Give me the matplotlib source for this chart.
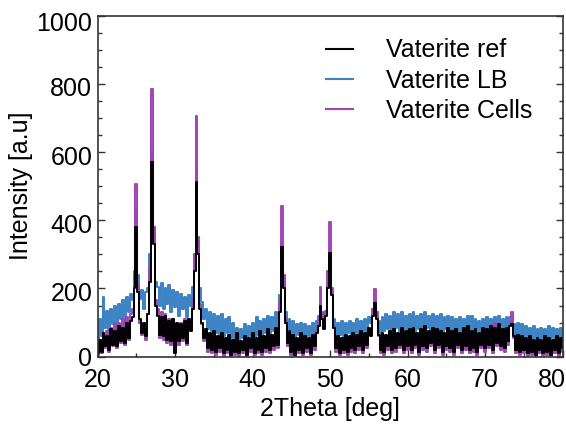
import numpy as np
import matplotlib
matplotlib.use("Agg")
import matplotlib.pyplot as plt
from matplotlib.ticker import MultipleLocator
import matplotlib.transforms as mtransforms

# 2Theta sampling grid (deg), 0.25 deg step from 20 to 80
two_theta = np.arange(20.0, 80.0001, 0.25)

vaterite_ref = [
    10, 50, 15, 70, 30, 60, 20, 80, 35, 75, 30, 90, 45, 85, 40, 100, 55, 105, 115, 200,
    380, 190, 110, 70, 100, 60, 125, 220, 570, 330, 150, 120, 65, 115, 60, 120, 50, 105, 45, 110,
    10, 100, 45, 95, 55, 105, 40, 110, 75, 140, 250, 512, 300, 140, 100, 55, 80, 25, 70, 20,
    75, 15, 60, 25, 70, 10, 55, 20, 65, 5, 50, 15, 70, 10, 45, 20, 60, 5, 55, 25,
    70, 10, 55, 20, 75, 15, 60, 25, 80, 20, 65, 30, 85, 35, 130, 322, 200, 100, 40, 75,
    15, 65, 5, 55, 20, 70, 10, 60, 25, 55, 10, 65, 30, 70, 90, 150, 110, 80, 120, 200,
    303, 180, 85, 25, 60, 10, 55, 20, 65, 15, 60, 25, 70, 20, 65, 30, 75, 20, 70, 35,
    85, 60, 120, 157, 110, 65, 20, 70, 15, 65, 30, 75, 20, 80, 25, 70, 35, 85, 20, 75,
    30, 80, 20, 85, 35, 70, 15, 80, 30, 90, 25, 75, 40, 85, 20, 80, 35, 75, 15, 70,
    30, 85, 25, 75, 15, 80, 35, 70, 20, 85, 30, 90, 20, 75, 25, 80, 15, 70, 35, 85,
    25, 80, 35, 90, 20, 85, 40, 95, 30, 80, 25, 85, 45, 90, 95, 60, 20, 65, 15, 60,
    20, 55, 10, 60, 15, 50, 5, 55, 20, 50, 10, 60, 15, 55, 5, 50, 20, 60, 10, 55,
    25,
]

vaterite_lb = [
    30, 110, 60, 175, 85, 135, 70, 140, 95, 150, 80, 155, 110, 165, 100, 175, 130, 185, 165, 250,
    430, 240, 170, 195, 140, 190, 200, 300, 600, 380, 220, 205, 150, 215, 140, 200, 155, 210, 130, 195,
    145, 190, 120, 185, 140, 175, 115, 180, 150, 205, 300, 561, 340, 200, 160, 110, 140, 80, 130, 75,
    125, 70, 120, 65, 125, 60, 110, 70, 115, 55, 100, 50, 85, 45, 80, 55, 95, 50, 90, 60,
    100, 50, 115, 65, 105, 55, 110, 70, 120, 65, 115, 75, 130, 85, 180, 335, 220, 130, 80, 110,
    60, 105, 55, 95, 65, 100, 50, 95, 60, 90, 55, 100, 65, 105, 120, 150, 130, 110, 135, 210,
    290, 190, 110, 60, 100, 65, 105, 55, 100, 70, 105, 60, 100, 70, 110, 65, 105, 75, 110, 70,
    115, 100, 140, 160, 130, 105, 70, 115, 75, 125, 80, 120, 70, 130, 85, 125, 75, 130, 80, 120,
    75, 125, 85, 130, 70, 120, 80, 125, 75, 130, 85, 120, 70, 125, 80, 120, 75, 125, 70, 115,
    80, 120, 70, 115, 75, 110, 70, 115, 65, 110, 75, 120, 70, 120, 65, 110, 75, 105, 70, 110,
    75, 115, 70, 110, 80, 115, 70, 120, 75, 110, 80, 115, 70, 115, 120, 95, 65, 100, 60, 95,
    55, 90, 60, 85, 50, 90, 55, 80, 50, 85, 55, 80, 50, 90, 55, 85, 50, 80, 55, 85,
    55,
]

vaterite_cells = [
    5, 45, 10, 60, 25, 75, 15, 85, 30, 95, 25, 100, 40, 110, 35, 115, 50, 125, 140, 230,
    505, 210, 100, 65, 95, 50, 125, 260, 785, 380, 165, 140, 55, 130, 50, 125, 40, 110, 35, 105,
    40, 95, 35, 100, 45, 110, 35, 105, 80, 160, 300, 707, 350, 155, 95, 45, 75, 15, 65, 10,
    65, 5, 55, 15, 60, 3, 50, 10, 60, 3, 45, 5, 65, 3, 40, 10, 55, 3, 50, 15,
    65, 5, 50, 10, 70, 5, 55, 15, 75, 10, 60, 20, 80, 25, 160, 441, 240, 110, 30, 70,
    5, 60, 3, 50, 10, 65, 5, 55, 15, 50, 5, 60, 20, 75, 110, 205, 130, 85, 130, 250,
    395, 200, 90, 15, 55, 5, 50, 10, 60, 5, 55, 15, 65, 10, 60, 20, 70, 10, 65, 25,
    80, 70, 140, 198, 130, 60, 10, 65, 5, 60, 20, 70, 10, 75, 15, 65, 25, 80, 10, 70,
    20, 75, 10, 80, 25, 65, 5, 75, 20, 85, 15, 70, 30, 80, 10, 75, 25, 70, 5, 65,
    20, 80, 15, 70, 5, 75, 25, 65, 10, 80, 20, 85, 10, 70, 15, 75, 5, 65, 25, 80,
    15, 75, 25, 85, 10, 100, 30, 90, 20, 75, 15, 80, 35, 90, 130, 55, 10, 60, 5, 55,
    10, 50, 3, 55, 5, 45, 3, 50, 10, 45, 3, 55, 5, 50, 3, 45, 10, 55, 3, 50,
    15,
]

series_labels = ["Vaterite ref", "Vaterite LB", "Vaterite Cells"]
series_colors = ["#000000", "#3a82c4", "#a044b4"]

x_ticks = [20, 30, 40, 50, 60, 70, 80]
y_ticks = [0, 200, 400, 600, 800, 1000]

plt.rcParams['font.family'] = ['Liberation Sans', 'DejaVu Sans']

fig = plt.figure(figsize=(5.66, 4.28), dpi=100)
ax = fig.add_axes([0.1726, 0.1666, 0.8215, 0.7967])

lw = 1.4
l_lb, = ax.plot(two_theta, vaterite_lb, color=series_colors[1], lw=lw,
                drawstyle='steps-mid', label=series_labels[1])
l_cells, = ax.plot(two_theta, vaterite_cells, color=series_colors[2], lw=lw,
                   drawstyle='steps-mid', label=series_labels[2])
l_ref, = ax.plot(two_theta, vaterite_ref, color=series_colors[0], lw=lw,
                 drawstyle='steps-mid', label=series_labels[0])

ax.set_xlim(20, 80)
ax.set_ylim(0, 1000)
ax.set_xticks(x_ticks)
ax.set_yticks(y_ticks)
ax.xaxis.set_minor_locator(MultipleLocator(5))
ax.yaxis.set_minor_locator(MultipleLocator(50))
ax.tick_params(which='both', direction='in', top=False, right=True, labelsize=18, color='#333333')
ax.tick_params(which='major', length=5, width=1)
ax.tick_params(which='minor', length=3, width=1)
ax.tick_params(axis='x', pad=8)
ax.tick_params(axis='y', pad=4)
for sp in ax.spines.values():
    sp.set_linewidth(1.2)
    sp.set_color('#333333')

# keep last x tick label inside the figure
lbls = ax.get_xticklabels()
lbls[-1].set_horizontalalignment('right')
lbls[-1].set_transform(lbls[-1].get_transform() + mtransforms.ScaledTranslation(3/100, 0, fig.dpi_scale_trans))

# y tick labels sit slightly below their ticks in the reference
for i, t in enumerate(ax.get_yticklabels()):
    if y_ticks[i] == 0:
        continue
    dy = -3/100 if y_ticks[i] != 1000 else -6/100
    t.set_transform(t.get_transform() + mtransforms.ScaledTranslation(0, dy, fig.dpi_scale_trans))

ax.set_xlabel("2Theta [deg]", fontsize=18, labelpad=4)
ax.set_ylabel("Intensity [a.u]", fontsize=18, labelpad=2)

leg = ax.legend(handles=[l_ref, l_lb, l_cells], loc='upper left',
                bbox_to_anchor=(0.453, 0.985), frameon=False, fontsize=18,
                handlelength=1.1, handletextpad=1.3, labelspacing=0.25, borderpad=0.2)
for h in leg.get_lines():
    h.set_linewidth(1.5)
    h.set_drawstyle('default')

fig.savefig("out.png", dpi=100)
